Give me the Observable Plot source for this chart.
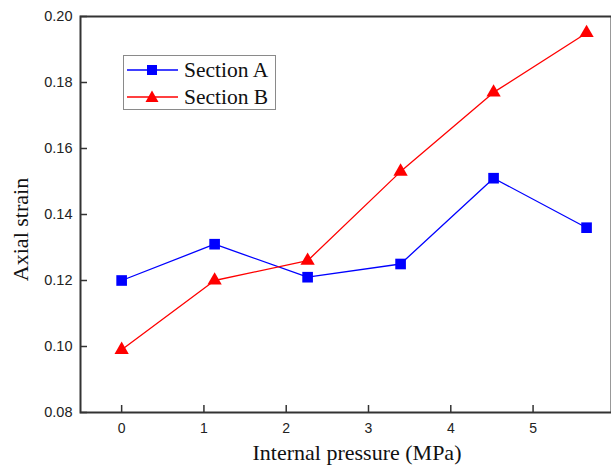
<!DOCTYPE html>
<html><head><meta charset="utf-8">
<script src="https://cdn.jsdelivr.net/npm/d3@7"></script>
<script src="https://cdn.jsdelivr.net/npm/@observablehq/plot@0.6"></script>
<style>
html,body{margin:0;padding:0;background:#fff;overflow:hidden;}
#wrap{position:relative;width:611px;height:468px;}
#legend{position:absolute;left:123px;top:55px;width:153px;height:55px;border:1px solid #8a8a8a;background:#fff;box-sizing:border-box;font-family:"Liberation Serif","Times New Roman",serif;font-size:21.5px;color:#111;}
.item{position:absolute;left:3px;height:24px;display:flex;align-items:center;white-space:nowrap;}
.item svg{margin-right:6px;flex:none;}
</style></head>
<body><div id="wrap"><div id="legend"></div></div>
<script>
const pressure = [0, 1.13, 2.26, 3.39, 4.52, 5.65];
const sectionA = [0.120, 0.131, 0.121, 0.125, 0.151, 0.136];
const sectionB = [0.099, 0.120, 0.126, 0.153, 0.177, 0.195];
const seriesNames = ["Section A", "Section B"];
const seriesColors = ["#0000ff", "#ff0000"];
const xTicks = [0, 1, 2, 3, 4, 5, 6];
const yTicks = [0.08, 0.10, 0.12, 0.14, 0.16, 0.18, 0.20];

const rowsA = pressure.map((p, i) => ({p, v: sectionA[i], s: seriesNames[0]}));
const rowsB = pressure.map((p, i) => ({p, v: sectionB[i], s: seriesNames[1]}));

const chart = Plot.plot({
  width: 611, height: 468,
  marginLeft: 80, marginTop: 16, marginBottom: 56, marginRight: 0,
  style: {fontFamily: "'Liberation Sans', Arial, sans-serif", fontSize: "14px", color: "#222", background: "#fff"},
  x: {domain: [-0.5, 6.5], range: [80, 656]},
  y: {domain: [0.08, 0.20]},
  marks: [
    Plot.axisX(xTicks, {tickSize: -7, tickPadding: 18, tickFormat: d => String(d), label: null, stroke: "#333", strokeWidth: 1.5, fontSize: 14}),
    Plot.axisY(yTicks, {tickSize: -7, tickPadding: 15, tickFormat: d => d.toFixed(2), label: null, stroke: "#333", strokeWidth: 1.5, fontSize: 14.5}),
    Plot.frame({stroke: "#333", strokeWidth: 2}),
    Plot.line(rowsA, {x: "p", y: "v", stroke: seriesColors[0], strokeWidth: 1.3}),
    Plot.line(rowsB, {x: "p", y: "v", stroke: seriesColors[1], strokeWidth: 1.3}),
    Plot.dot(rowsA, {x: "p", y: "v", symbol: "square", r: 6, fill: seriesColors[0], stroke: null}),
    Plot.dot(rowsB, {x: "p", y: "v", symbol: "triangle", r: 5.3, fill: seriesColors[1], stroke: null}),
    Plot.text(["Internal pressure (MPa)"], {frameAnchor: "bottom", textAnchor: "middle", lineAnchor: "middle", dx: 11, dy: 40, fontFamily: "'Liberation Serif', 'Times New Roman', serif", fontSize: 22, fill: "#111"}),
    Plot.text(["Axial strain"], {frameAnchor: "left", textAnchor: "middle", lineAnchor: "middle", rotate: -90, dx: -60, dy: 15, fontFamily: "'Liberation Serif', 'Times New Roman', serif", fontSize: 22, fill: "#111"})
  ]
});
chart.style.maxWidth = "none";
document.getElementById("wrap").prepend(chart);

const legend = document.getElementById("legend");
seriesNames.forEach((name, i) => {
  const item = document.createElement("div");
  item.className = "item";
  item.style.top = (i === 0 ? 2 : 29) + "px";
  const sym = i === 0
    ? '<rect x="20" y="7" width="10" height="10" fill="' + seriesColors[i] + '"/>'
    : '<path d="M25,5.5 L31.5,17 L18.5,17 Z" fill="' + seriesColors[i] + '"/>';
  item.innerHTML = '<svg width="51" height="24"><line x1="0" x2="51" y1="12" y2="12" stroke="' + seriesColors[i] + '" stroke-width="1.3"/>' + sym + '</svg><span>' + name + '</span>';
  legend.appendChild(item);
});
</script></body></html>
